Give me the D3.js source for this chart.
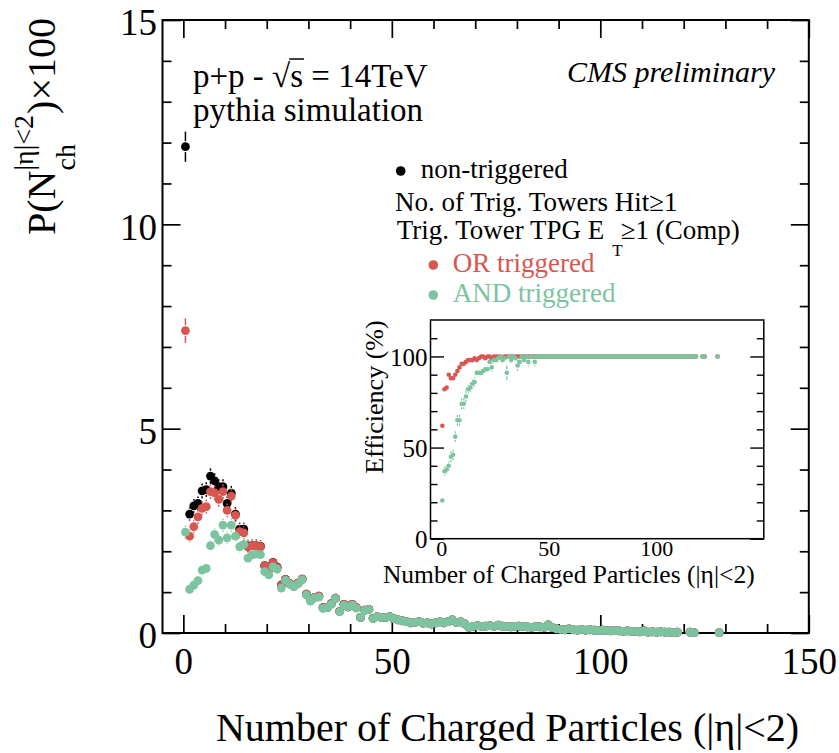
<!DOCTYPE html>
<html>
<head>
<meta charset="utf-8">
<script src="https://cdn.jsdelivr.net/npm/d3@7"></script>
<style>
  html, body { margin: 0; padding: 0; background: #fff; }
  svg { display: block; font-family: "Liberation Serif", "Times New Roman", Times, serif; }
</style>
</head>
<body>
<svg id="chart" width="839" height="753"></svg>
<script>
// ---- Charged-particle multiplicity, P(N_ch) x 100, per bin N = 0,1,2,... ----
// Low-multiplicity bins, where the three selections differ
const nonTriggeredLow = [11.9, 2.91, 3.11, 3.17, 3.48, 3.51, 3.84, 3.72, 3.58, 3.58, 3.17, 3.42,
  2.91, 2.54, 2.54, 2.13, 2.14, 2.14, 2.12, 1.65, 1.55, 1.73, 1.61, 1.18];
const orTriggeredLow = [7.4, 2.37, 2.60, 2.84, 3.05, 3.09, 3.46, 3.43, 3.27, 3.46, 3.00, 3.35,
  2.88, 2.48, 2.45, 2.11, 2.13, 2.13, 2.11, 1.64, 1.54, 1.72, 1.60, 1.17];
const andTriggeredLow = [2.47, 1.07, 1.17, 1.28, 1.54, 1.58, 2.14, 2.41, 2.27, 2.64, 2.33, 2.64,
  2.37, 2.11, 2.17, 1.83, 1.91, 1.93, 1.92, 1.50, 1.42, 1.62, 1.56, 1.10, 1.29, 1.19, 1.13, 1.20,
  1.30, 0.93, 0.78, 0.86, 0.88, 0.60, 0.62, 0.70, 0.84, 0.52, 0.68, 0.64, 0.68, 0.61, 0.38, 0.55,
  0.57, 0.35];
// Statistical errors for the low-multiplicity bins
const nonTriggeredErr = [0.37, 0.16, 0.17, 0.17, 0.18, 0.18, 0.19, 0.19, 0.18, 0.18, 0.17, 0.18,
  0.17, 0.16, 0.16, 0.15, 0.15, 0.15, 0.15, 0.13, 0.13, 0.13, 0.13, 0.11];
const orTriggeredErr = [0.30, 0.15, 0.16, 0.17, 0.17, 0.17, 0.18, 0.18, 0.18, 0.18, 0.17, 0.18,
  0.17, 0.16, 0.16, 0.15, 0.15, 0.15, 0.15, 0.13, 0.13, 0.13, 0.13, 0.11];
const andTriggeredErr = [0.16, 0.10, 0.11, 0.11, 0.12, 0.12, 0.14, 0.15, 0.15, 0.16, 0.15, 0.16,
  0.15, 0.14, 0.14, 0.13, 0.13, 0.13, 0.13, 0.12, 0.12, 0.12, 0.12, 0.10];
// High-multiplicity tail from N = 24 on (identical for the selections once fully efficient)
const tailStartBin = 24;
const multiplicityTail = [1.31, 1.21, 1.15, 1.22, 1.32, 0.95, 0.80, 0.87, 0.90, 0.62, 0.62, 0.72,
  0.85, 0.53, 0.70, 0.64, 0.70, 0.62, 0.38, 0.56, 0.58, 0.36,
  0.40, 0.38, 0.38, 0.40, 0.35, 0.32, 0.30, 0.28, 0.25, 0.26, 0.28, 0.24, 0.25, 0.22, 0.25, 0.27,
  0.25, 0.28, 0.32, 0.26, 0.27, 0.22, 0.14, 0.16, 0.18, 0.16, 0.17, 0.18, 0.16, 0.19, 0.17, 0.16,
  0.15, 0.16, 0.17, 0.16, 0.15, 0.14, 0.16, 0.15, 0.14, 0.20, 0.13, 0.10, 0.09, 0.08, 0.10, 0.08,
  0.07, 0.09, 0.07, 0.08, 0.07, 0.06, 0.07, 0.06, 0.05, 0.06, 0.05, 0.04, 0.05, 0.04, 0.04, 0.03,
  0.05, 0.02, 0.03, 0.02, 0.03, 0.02, 0.02, 0.01, 0.02, null, null, 0.02, 0.01, null, null, null,
  null, null, 0.01];

// ---- Trigger efficiency (%) per bin ----
const effOrLow = [62, 82, 83, 90, 88, 88, 90, 92, 94, 96, 96, 97, 98, 98, 98, 99, 98, 99, 100, 100,
  99, 100, 100, 99, 100, 100, 100, 100, 99, 100];
const effOrErrLow = [1.2, 1.5, 1.5, 1.5, 1.5, 1.5, 1.5, 1.2, 1.0, 1.0, 1.0, 0.8, 0.8, 0.8, 0.8, 0.6,
  0.6, 0.6, 0.4, 0.4, 0.4, 0.4, 0.4, 0.4, 0.3, 0.3, 0.3, 0.3, 0.3, 0.3];
const effAndLow = [21, 37, 38, 40, 45, 46, 56, 65, 65, 74, 74, 78, 82, 83, 85, 86, 91, 91, 91, 92,
  93, 93, 97, 94, 98, 98, 99, 100, 98, 99, 91, 100, 98, 100, 99, 95, 97, 100, 98, 100, 97, 100,
  100, 97, 100, 100];
const effAndErrLow = [1.5, 2.5, 2.5, 2.5, 3, 3, 3, 3, 3, 3, 3, 3, 2.5, 2.5, 2.5, 2.5, 2, 2, 2, 2, 2,
  2, 2, 2.5, 2, 2, 1.5, 1, 2, 2, 4, 1, 2, 1, 2, 3, 2.5, 1, 2, 1, 2.5, 1, 1, 2.5, 1, 1];
const effPlateau = 100;   // fully efficient above the turn-on

// ---- Axis ticks ----
const xMajorTicks = [0, 50, 100, 150];
const xMinorTicks = [10, 20, 30, 40, 60, 70, 80, 90, 110, 120, 130, 140];
const yMajorTicks = [0, 5, 10, 15];
const yMinorTicks = [1, 2, 3, 4, 6, 7, 8, 9, 11, 12, 13, 14];
const effMajorTicks = [0, 50, 100];
const effMinorTicks = [10, 20, 30, 40, 60, 70, 80, 90, 110];
const insetXLabels = [0, 50, 100];

const RED = "#d85650";
const GREEN = "#7cc49f";
const FONT = '"Liberation Serif", "Times New Roman", Times, serif';

const svg = d3.select("#chart");
svg.append("rect").attr("width", 839).attr("height", 753).attr("fill", "#fff");

// ---- Main frame ----
const x = d3.scaleLinear().domain([-5, 150]).range([162.5, 808.8]);
const y = d3.scaleLinear().domain([0, 15]).range([633, 20]);

function drawAxis(axisFn, scale, values, size, transform, withLabels, fontSize, pad, width) {
  const a = axisFn(scale).tickValues(values).tickSizeInner(-size).tickSizeOuter(0).tickPadding(pad);
  if (!withLabels) a.tickFormat("");
  const g = svg.append("g").attr("transform", transform).call(a);
  g.select(".domain").remove();
  g.attr("font-family", FONT).attr("font-size", fontSize);
  g.selectAll(".tick line").attr("stroke", "#000").attr("stroke-width", width);
  g.selectAll(".tick text").attr("fill", "#000");
  return g;
}

// bottom / top
drawAxis(d3.axisBottom, x, xMajorTicks, 18, "translate(0,633)", true, 37, 15, 1.7);
drawAxis(d3.axisBottom, x, xMinorTicks, 9, "translate(0,633)", false, 10, 0, 1.7);
drawAxis(d3.axisTop, x, xMajorTicks, 18, "translate(0,20)", false, 10, 0, 1.7);
drawAxis(d3.axisTop, x, xMinorTicks, 9, "translate(0,20)", false, 10, 0, 1.7);
// left / right
const yl = drawAxis(d3.axisLeft, y, yMajorTicks, 18, "translate(162.5,0)", true, 37, 5.5, 1.7);
yl.selectAll(".tick text").attr("dy", "0.4em");
drawAxis(d3.axisLeft, y, yMinorTicks, 9, "translate(162.5,0)", false, 10, 0, 1.7);
drawAxis(d3.axisRight, y, yMajorTicks, 18, "translate(808.8,0)", false, 10, 0, 1.7);
drawAxis(d3.axisRight, y, yMinorTicks, 9, "translate(808.8,0)", false, 10, 0, 1.7);

svg.append("rect")
  .attr("x", 162.5).attr("y", 20).attr("width", 808.8 - 162.5).attr("height", 613)
  .attr("fill", "none").attr("stroke", "#000").attr("stroke-width", 2);

// ---- Assemble the three distributions ----
function withTail(low, fromBin) {
  return low.concat(multiplicityTail.slice(fromBin - tailStartBin));
}
const series = [
  { key: "non", color: "#000", values: withTail(nonTriggeredLow, nonTriggeredLow.length), errors: nonTriggeredErr },
  { key: "or", color: RED, values: withTail(orTriggeredLow, orTriggeredLow.length), errors: orTriggeredErr },
  { key: "and", color: GREEN, values: withTail(andTriggeredLow, andTriggeredLow.length), errors: andTriggeredErr }
];

function drawPoints(layer, sx, sy, values, errors, color, r, errWidth) {
  const pts = values.map((v, i) => ({ n: i, v, e: errors && i < errors.length ? errors[i] : 0 }))
    .filter(d => d.v != null);
  const eb = layer.append("g").attr("stroke", color).attr("stroke-width", errWidth);
  pts.forEach(d => {
    if (!d.e) return;
    const cx = sx(d.n + 0.5), cy = sy(d.v);
    const top = sy(d.v + d.e), bot = sy(d.v - d.e);
    if (top < cy - r - 1) eb.append("line").attr("x1", cx).attr("x2", cx).attr("y1", top).attr("y2", cy - r - 1);
    if (bot > cy + r + 1) eb.append("line").attr("x1", cx).attr("x2", cx).attr("y1", cy + r + 1).attr("y2", bot);
  });
  layer.append("g").selectAll("circle").data(pts).join("circle")
    .attr("cx", d => sx(d.n + 0.5)).attr("cy", d => sy(d.v)).attr("r", r).attr("fill", color);
}

const plot = svg.append("g");
series.forEach(s => drawPoints(plot.append("g"), x, y, s.values, s.errors, s.color, 4.4, 1.5));

// ---- Axis titles ----
svg.append("text").attr("x", 507.5).attr("y", 741).attr("text-anchor", "middle")
  .attr("font-size", 40).attr("fill", "#000").text("Number of Charged Particles (|\u03b7|<2)");

// Rotated y title: P(N_ch^{|eta|<2}) x 100
const yt = svg.append("g").attr("font-size", 40).attr("fill", "#000");
const t1 = yt.append("text").attr("x", 0).attr("y", 0).text("P(N");
const w1 = t1.node().getComputedTextLength();
const tSup = yt.append("text").attr("x", w1).attr("y", -22).attr("font-size", 28).text("|\u03b7|<2");
const tSub = yt.append("text").attr("x", w1).attr("y", 20).attr("font-size", 28).text("ch");
const wSS = Math.max(tSup.node().getComputedTextLength(), tSub.node().getComputedTextLength());
const t2 = yt.append("text").attr("x", w1 + wSS + 1).attr("y", 0).text(")\u00d7100");
const total = w1 + wSS + 1 + t2.node().getComputedTextLength();
yt.attr("transform", `translate(55,${126.5 + total / 2}) rotate(-90)`);

// ---- Annotations ----
const ann = svg.append("text").attr("x", 193).attr("y", 87).attr("font-size", 33).attr("fill", "#000")
  .text("p+p - \u221as = 14TeV");
{
  const node = ann.node();
  const rootEnd = node.getEndPositionOfChar(6).x;
  const sEnd = node.getEndPositionOfChar(7).x;
  svg.append("line").attr("x1", rootEnd - 1).attr("x2", sEnd + 1)
    .attr("y1", 87 - 28).attr("y2", 87 - 28).attr("stroke", "#000").attr("stroke-width", 1.5);
}
svg.append("text").attr("x", 193).attr("y", 120.5).attr("font-size", 33).attr("fill", "#000")
  .text("pythia simulation");
svg.append("text").attr("x", 775).attr("y", 82).attr("text-anchor", "end").attr("font-size", 30)
  .attr("font-style", "italic").attr("fill", "#000").text("CMS preliminary");

// ---- Legend ----
const leg = svg.append("g").attr("font-size", 27);
leg.append("circle").attr("cx", 400.7).attr("cy", 171).attr("r", 4.8).attr("fill", "#000");
leg.append("text").attr("x", 420.7).attr("y", 178.3).attr("fill", "#000").text("non-triggered");
leg.append("text").attr("x", 395).attr("y", 210.6).attr("fill", "#000").text("No. of Trig. Towers Hit\u22651");
const trig = leg.append("text").attr("x", 396.7).attr("y", 238.6).attr("fill", "#000");
trig.append("tspan").text("Trig. Tower TPG E");
trig.append("tspan").attr("font-size", 17).attr("dx", 8).attr("dy", 17).text("T");
trig.append("tspan").attr("dx", -2).attr("dy", -17).text("\u22651 (Comp)");
leg.append("circle").attr("cx", 433.3).attr("cy", 265).attr("r", 4.8).attr("fill", RED);
leg.append("text").attr("x", 452.7).attr("y", 271.7).attr("fill", RED).text("OR triggered");
leg.append("circle").attr("cx", 433.3).attr("cy", 295).attr("r", 4.8).attr("fill", GREEN);
leg.append("text").attr("x", 452.7).attr("y", 301.7).attr("fill", GREEN).text("AND triggered");

// ---- Inset: trigger efficiency ----
const xi = d3.scaleLinear().domain([-5, 150]).range([430.5, 763.8]);
const yi = d3.scaleLinear().domain([0, 120]).range([538.7, 320]);
svg.append("rect").attr("x", 430.5).attr("y", 320).attr("width", 763.8 - 430.5).attr("height", 538.7 - 320)
  .attr("fill", "#fff");

const nBins = series[0].values.length;
function efficiency(low, present) {
  return d3.range(nBins).map(i => i < low.length ? low[i] : (present[i] != null ? effPlateau : null));
}
const effOr = efficiency(effOrLow, series[1].values);
const effAnd = efficiency(effAndLow, series[2].values);

const ia = drawAxis(d3.axisLeft, yi, effMajorTicks, 13.5, "translate(430.5,0)", true, 25, 3, 1.4);
ia.selectAll(".tick text").attr("dy", "0.35em");
drawAxis(d3.axisLeft, yi, effMinorTicks, 7, "translate(430.5,0)", false, 10, 0, 1.4);
drawAxis(d3.axisRight, yi, effMajorTicks, 13.5, "translate(763.8,0)", false, 10, 0, 1.4);
drawAxis(d3.axisRight, yi, effMinorTicks, 7, "translate(763.8,0)", false, 10, 0, 1.4);
drawAxis(d3.axisBottom, xi, insetXLabels, 0, "translate(0,538.7)", true, 22, 1.5, 0);

const inset = svg.append("g");
drawPoints(inset.append("g"), xi, yi, effOr, effOrErrLow, RED, 2.3, 1.2);
drawPoints(inset.append("g"), xi, yi, effAnd, effAndErrLow, GREEN, 2.3, 1.2);

svg.append("rect").attr("x", 430.5).attr("y", 320).attr("width", 763.8 - 430.5).attr("height", 538.7 - 320)
  .attr("fill", "none").attr("stroke", "#000").attr("stroke-width", 1.5);

svg.append("text").attr("x", 568.8).attr("y", 583).attr("text-anchor", "middle").attr("font-size", 25.5)
  .attr("fill", "#000").text("Number of Charged Particles (|\u03b7|<2)");
svg.append("text").attr("transform", "translate(383,397) rotate(-90)").attr("text-anchor", "middle")
  .attr("font-size", 26).attr("fill", "#000").text("Efficiency (%)");
</script>
</body>
</html>
